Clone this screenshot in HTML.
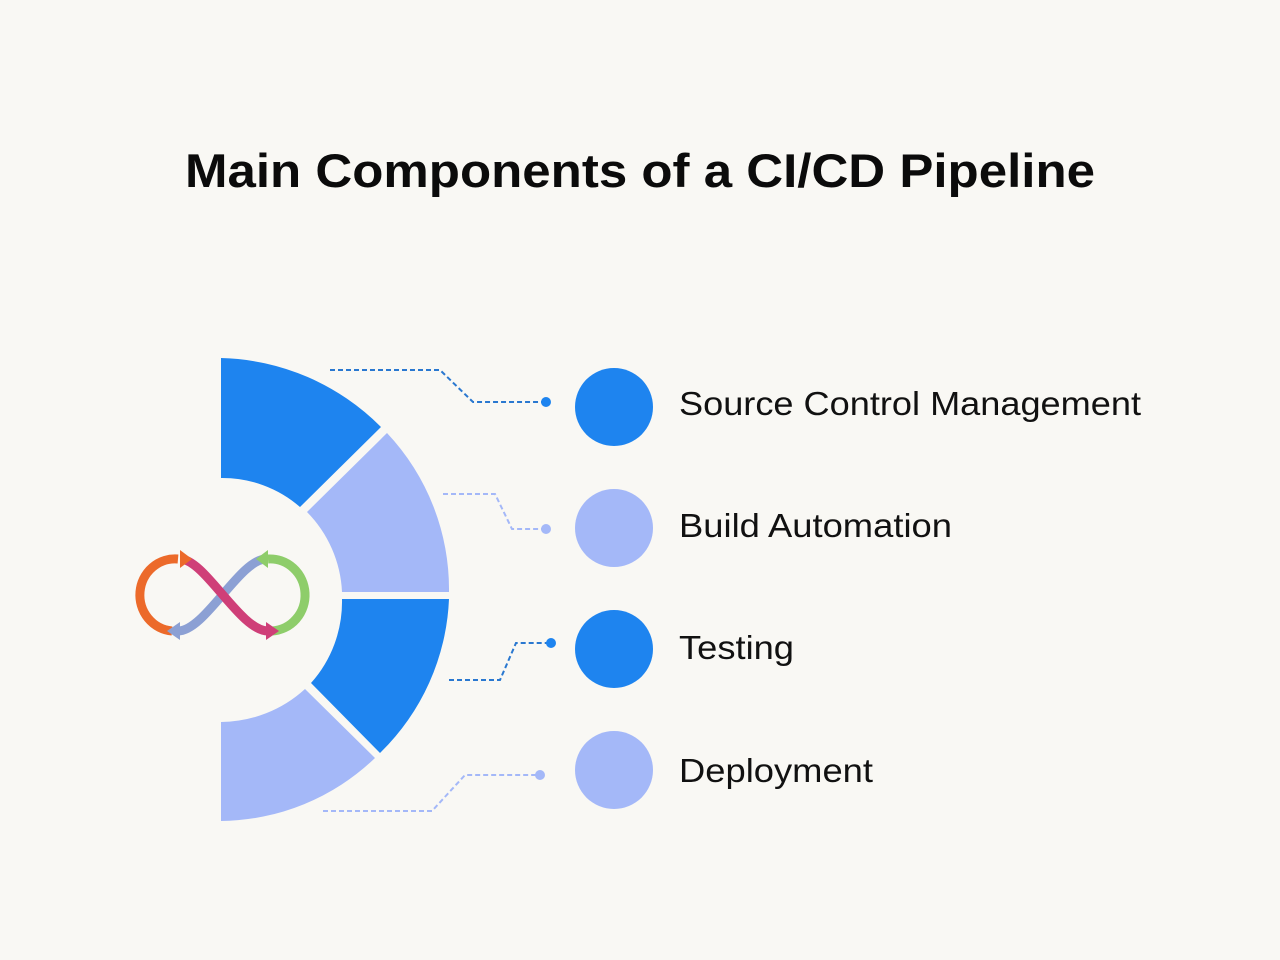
<!DOCTYPE html>
<html><head><meta charset="utf-8"><style>
html,body{margin:0;padding:0;background:#f9f8f4;}
svg{display:block;}
</style></head><body>
<svg width="1280" height="960" viewBox="0 0 1280 960" xmlns="http://www.w3.org/2000/svg">
<rect width="1280" height="960" fill="#f9f8f4"/>
<text x="640" y="187" text-anchor="middle" font-family="Liberation Sans, sans-serif" font-weight="bold" font-size="47" fill="#0b0b0b" textLength="910" lengthAdjust="spacingAndGlyphs">Main Components of a CI/CD Pipeline</text>

<!-- donut segments -->
<path d="M221,358 A234,234 0 0 1 381,427 L300,507 A118,118 0 0 0 221,478 Z" fill="#1e84ef"/>
<path d="M387,433 A228,228 0 0 1 449,592 L342,592 A122,122 0 0 0 307,512 Z" fill="#a4b8f8"/>
<path d="M449,599 A228,228 0 0 1 380,753 L311,683 A122,122 0 0 0 342,599 Z" fill="#1e84ef"/>
<path d="M375,758 A226,226 0 0 1 221,821 L221,722 A126,126 0 0 0 305,689 Z" fill="#a4b8f8"/>

<!-- infinity -->
<g fill="none" stroke-width="9" stroke-linecap="butt">
<path d="M266,559 C240,559 205,631 178,631" stroke="#8ca0d4"/>
<path d="M180,559 C205,559 240,631 268,631" stroke="#cf3f78"/>
<path d="M172,631 A35,36 0 0 1 178,559" stroke="#ec6a2a"/>
<path d="M272,631 A35,36 0 0 0 268,559" stroke="#8ecd6a"/>
</g>
<polygon points="180,550 192,559 180,568" fill="#ec6a2a"/>
<polygon points="266,622 279,631 266,640" fill="#cf3f78"/>
<polygon points="180,622 167,631 180,640" fill="#8ca0d4"/>
<polygon points="268,550 256,559 268,568" fill="#8ecd6a"/>

<!-- connectors -->
<g fill="none" stroke-width="2" stroke-dasharray="5,3">
<polyline points="330,370 440,370 473,402 546,402" stroke="#2a78d0"/>
<polyline points="443,494 495,494 512,529 546,529" stroke="#a4b8f8"/>
<polyline points="449,680 500,680 516,643 551,643" stroke="#2a78d0"/>
<polyline points="323,811 432,811 465,775 540,775" stroke="#a4b8f8"/>
</g>
<circle cx="546" cy="402" r="5" fill="#1e84ef"/>
<circle cx="546" cy="529" r="5" fill="#a4b8f8"/>
<circle cx="551" cy="643" r="5" fill="#1e84ef"/>
<circle cx="540" cy="775" r="5" fill="#a4b8f8"/>

<!-- legend -->
<circle cx="614" cy="407" r="39" fill="#1e84ef"/>
<circle cx="614" cy="528" r="39" fill="#a4b8f8"/>
<circle cx="614" cy="649" r="39" fill="#1e84ef"/>
<circle cx="614" cy="770" r="39" fill="#a4b8f8"/>
<g font-family="Liberation Sans, sans-serif" font-size="33" fill="#111">
<text x="679" y="415" textLength="462" lengthAdjust="spacingAndGlyphs">Source Control Management</text>
<text x="679" y="537" textLength="273" lengthAdjust="spacingAndGlyphs">Build Automation</text>
<text x="679" y="659" textLength="115" lengthAdjust="spacingAndGlyphs">Testing</text>
<text x="679" y="782" textLength="194" lengthAdjust="spacingAndGlyphs">Deployment</text>
</g>
</svg>
</body></html>
